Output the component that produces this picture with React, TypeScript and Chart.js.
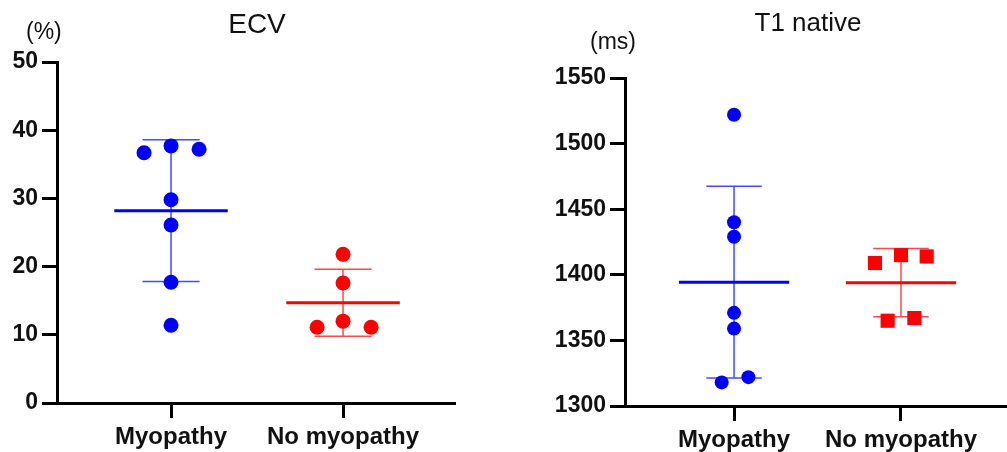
import React, { useEffect, useRef } from "react";
import { Chart, registerables } from "chart.js";

Chart.register(...registerables);

const categories = ["Myopathy", "No myopathy"];

// ECV (%)
const ecvMyopathy = [36.7, 37.7, 37.2, 29.8, 26.1, 17.7, 11.4];
const ecvMyopathyJitter = [-0.157, 0, 0.163, 0, 0, 0, 0];
const ecvNoMyopathy = [21.8, 17.6, 12.0, 11.1, 11.1];
const ecvNoMyopathyJitter = [0, 0, 0, -0.151, 0.163];
const ecvMean = [28.2, 14.7];
const ecvSD = [10.4, 4.9];
const ecvTicks = [0, 10, 20, 30, 40, 50];

// T1 native (ms)
const t1Myopathy = [1522, 1440, 1429, 1371, 1359, 1318, 1322];
const t1MyopathyJitter = [0, 0, 0, 0, 0, -0.074, 0.086];
const t1NoMyopathy = [1409, 1415, 1414, 1365, 1367];
const t1NoMyopathyJitter = [-0.156, 0, 0.154, -0.08, 0.08];
const t1Mean = [1394.4, 1394];
const t1SD = [73, 26];
const t1Ticks = [1300, 1350, 1400, 1450, 1500, 1550];

const BLUE = "#0000ff";
const RED = "#ff0000";
const BLUE_SD = "rgba(40,40,255,0.85)";
const RED_SD = "rgba(255,40,40,0.85)";
const MEAN_HALF = 0.33;
const CAP_HALF = 0.166;
const FONT = "'Liberation Sans', Arial, sans-serif";

type Cfg = {
  groups: { values: number[]; jitter: number[]; color: string; sdColor: string; style: string; radius: number }[];
  mean: number[];
  sd: number[];
  ticks: number[];
  xMin: number;
  xMax: number;
  yAxisWidth: number;
  xAxisHeight: number;
  padTop: number;
  padRight: number;
  title: string;
  titleSize: number;
  titleX: number;
  titleY: number;
  unit: string;
  unitX: number;
  unitY: number;
};

function buildChart(canvas: HTMLCanvasElement, c: Cfg) {
  const datasets: any[] = [];
  c.groups.forEach((g, i) => {
    datasets.push({
      type: "scatter",
      data: g.values.map((v, k) => ({ x: i + 1 + g.jitter[k], y: v })),
      pointStyle: g.style,
      pointRadius: g.radius,
      pointBackgroundColor: g.color,
      pointBorderWidth: 0,
      showLine: false,
    });
  });
  c.groups.forEach((g, i) => {
    const cx = i + 1;
    const m = c.mean[i];
    const s = c.sd[i];
    datasets.push({
      type: "scatter",
      data: [
        { x: cx - MEAN_HALF, y: m },
        { x: cx + MEAN_HALF, y: m },
      ],
      showLine: true,
      borderColor: g.color,
      borderWidth: 3,
      pointRadius: 0,
    });
    datasets.push({
      type: "scatter",
      data: [
        { x: cx - CAP_HALF, y: m + s },
        { x: cx + CAP_HALF, y: m + s },
        { x: cx, y: null },
        { x: cx, y: m + s },
        { x: cx, y: m - s },
        { x: cx, y: null },
        { x: cx - CAP_HALF, y: m - s },
        { x: cx + CAP_HALF, y: m - s },
      ],
      showLine: true,
      spanGaps: false,
      borderColor: g.sdColor,
      borderWidth: 1.5,
      pointRadius: 0,
    });
  });

  const textPlugin = {
    id: "texts",
    afterDraw(chart: any) {
      const ctx = chart.ctx;
      ctx.save();
      ctx.fillStyle = "#111";
      ctx.textBaseline = "middle";
      ctx.font = `${c.titleSize}px ${FONT}`;
      ctx.textAlign = "center";
      ctx.fillText(c.title, c.titleX, c.titleY);
      ctx.font = `23px ${FONT}`;
      ctx.textAlign = "left";
      ctx.fillText(c.unit, c.unitX, c.unitY);
      ctx.restore();
    },
  };

  return new Chart(canvas, {
    type: "scatter",
    data: { datasets },
    plugins: [textPlugin],
    options: {
      animation: false,
      responsive: false,
      maintainAspectRatio: false,
      layout: { autoPadding: false, padding: { top: c.padTop, right: c.padRight, left: 0, bottom: 0 } },
      plugins: { legend: { display: false }, title: { display: false }, tooltip: { enabled: false } },
      scales: {
        x: {
          type: "linear",
          min: c.xMin,
          max: c.xMax,
          afterBuildTicks: (s: any) => {
            s.ticks = categories.map((_, i) => ({ value: i + 1 }));
          },
          afterFit: (s: any) => {
            s.height = c.xAxisHeight;
          },
          ticks: {
            callback: (v: any) => categories[Math.round(v) - 1] ?? "",
            font: { family: FONT, size: 24, weight: "bold" },
            color: "#111",
            padding: 5,
            maxRotation: 0,
            autoSkip: false,
          },
          grid: {
            display: true,
            drawOnChartArea: false,
            drawTicks: true,
            tickLength: 15,
            tickWidth: 3,
            tickColor: "#000",
            color: "#000",
          },
          border: { display: true, color: "#000", width: 3 },
        },
        y: {
          type: "linear",
          min: c.ticks[0],
          max: c.ticks[c.ticks.length - 1],
          afterBuildTicks: (s: any) => {
            s.ticks = c.ticks.map((v) => ({ value: v }));
          },
          afterFit: (s: any) => {
            s.width = c.yAxisWidth;
          },
          ticks: {
            callback: (v: any) => String(v),
            font: { family: FONT, size: 23, weight: "bold" },
            color: "#111",
            padding: 4,
            autoSkip: false,
          },
          grid: {
            display: true,
            drawOnChartArea: false,
            drawTicks: true,
            tickLength: 15,
            tickWidth: 3,
            tickColor: "#000",
            color: "#000",
          },
          border: { display: true, color: "#000", width: 3 },
        },
      },
    },
  } as any);
}

export default function App() {
  const leftRef = useRef<HTMLCanvasElement | null>(null);
  const rightRef = useRef<HTMLCanvasElement | null>(null);

  useEffect(() => {
    const left = buildChart(leftRef.current!, {
      groups: [
        { values: ecvMyopathy, jitter: ecvMyopathyJitter, color: BLUE, sdColor: BLUE_SD, style: "circle", radius: 7.5 },
        { values: ecvNoMyopathy, jitter: ecvNoMyopathyJitter, color: RED, sdColor: RED_SD, style: "circle", radius: 7.5 },
      ],
      mean: ecvMean,
      sd: ecvSD,
      ticks: ecvTicks,
      xMin: 0.337,
      xMax: 2.651,
      yAxisWidth: 57,
      xAxisHeight: 49,
      padTop: 62,
      padRight: 15,
      title: "ECV",
      titleSize: 28,
      titleX: 257,
      titleY: 25,
      unit: "(%)",
      unitX: 26,
      unitY: 33,
    });
    const right = buildChart(rightRef.current!, {
      groups: [
        { values: t1Myopathy, jitter: t1MyopathyJitter, color: BLUE, sdColor: BLUE_SD, style: "circle", radius: 7 },
        { values: t1NoMyopathy, jitter: t1NoMyopathyJitter, color: RED, sdColor: RED_SD, style: "rect", radius: 10 },
      ],
      mean: t1Mean,
      sd: t1SD,
      ticks: t1Ticks,
      xMin: 0.347,
      xMax: 2.635,
      yAxisWidth: 155,
      xAxisHeight: 46,
      padTop: 78,
      padRight: 0,
      title: "T1 native",
      titleSize: 26,
      titleX: 338,
      titleY: 24,
      unit: "(ms)",
      unitX: 120,
      unitY: 43,
    });
    return () => {
      left.destroy();
      right.destroy();
    };
  }, []);

  return (
    <div style={{ position: "absolute", left: 0, top: 0, width: 1007, height: 452, background: "#fff" }}>
      <canvas ref={leftRef} width={470} height={452} style={{ position: "absolute", left: 0, top: 0, width: 470, height: 452 }} />
      <canvas ref={rightRef} width={537} height={452} style={{ position: "absolute", left: 470, top: 0, width: 537, height: 452 }} />
    </div>
  );
}
